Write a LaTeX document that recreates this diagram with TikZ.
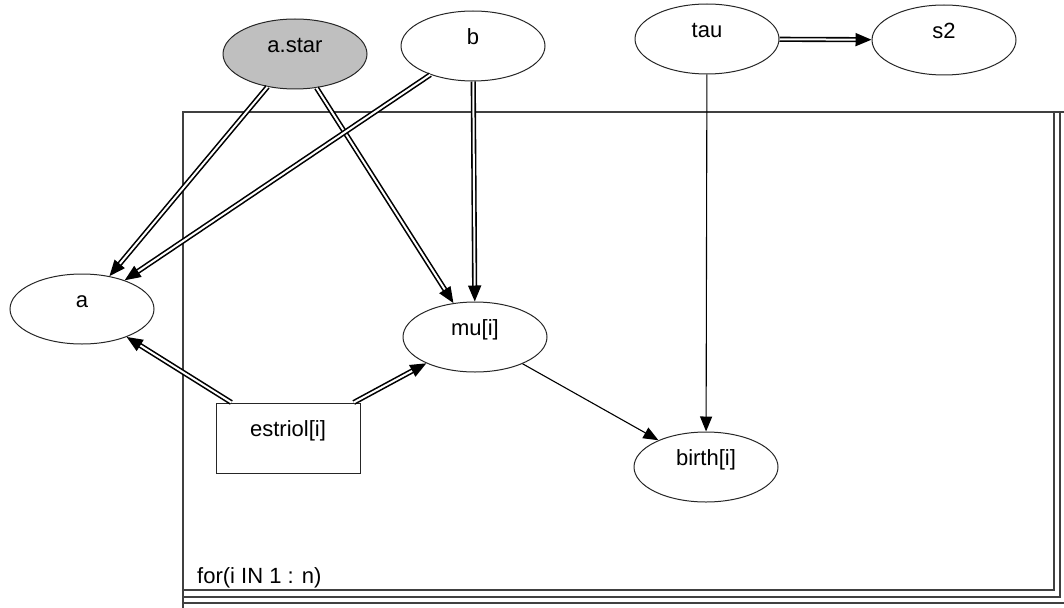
\documentclass[tikz,border=0pt]{standalone}
\usepackage{fontspec}
\setmainfont{Liberation Sans}
\usepackage{xcolor}
\usetikzlibrary{arrows.meta,shapes}

\begin{document}
\begin{tikzpicture}[x=1pt,y=-1pt]
		\tikzstyle{var_node}=[ellipse, draw=black!85, line width=1pt, fill=white, minimum width=144pt, minimum height=70pt, inner sep=0pt, text height=6pt, text depth=9pt, font=\fontsize{22}{26}\selectfont]
		\tikzstyle{obs_node}=[var_node, fill=black!25]
		\tikzstyle{const_node}=[var_node, rectangle, minimum width=144pt, minimum height=70pt]
		\tikzstyle{plate}=[draw=black!75, line width=1.2pt]
		\tikzstyle{plate_text}=[anchor=south west, inner sep=0pt, font=\fontsize{22}{26}\selectfont]
		\tikzstyle{det_edge}=[line width=1.6pt, double=white, double distance=2pt, -{Triangle[length=16pt,width=13pt]}]
		\tikzstyle{stoch_edge}=[line width=1.1pt, -{Triangle[length=15pt,width=12pt]}]

		\path[use as bounding box, clip] (0,0) rectangle (1064,607);

		% plate
		\draw[plate] (183,112) rectangle (1054,590);
		\draw[plate] (1054,112) -- (1070,112);
		\draw[plate] (183,590) -- (183,610);
		\draw[plate] (1060,112) -- (1060,597) -- (183,597);
		\draw[plate] (1066,112) -- (1066,603) -- (183,603);
		\node[plate_text] (for_label) at (197,588) {for(i IN 1 : n)};

		% top level
		\node[obs_node] (astar) at (295,54) {a.star};
		\node[var_node] (b) at (473,46) {b};
		\node[var_node] (tau) at (707,39) {tau};
		\node[var_node] (s2) at (944,40) {s2};

		% inside the plate
		\node[var_node] (a) at (82,309) {a};
		\node[var_node] (mu) at (475,337) {mu[i]};
		\node[const_node] (estriol) at (288,438) {estriol[i]};
		\node[var_node] (birth) at (706,467) {birth[i]};

		\draw[det_edge] (astar) -- (a);
		\draw[det_edge] (astar) -- (mu);
		\draw[det_edge] (b) -- (a);
		\draw[det_edge] (b) -- (mu);
		\draw[det_edge] (tau) -- (s2);
		\draw[det_edge] (estriol) -- (a);
		\draw[det_edge] (estriol) -- (mu);

		\draw[stoch_edge] (mu) -- (birth);
		\draw[stoch_edge] (tau) -- (birth);

	\end{tikzpicture}
\end{document}
